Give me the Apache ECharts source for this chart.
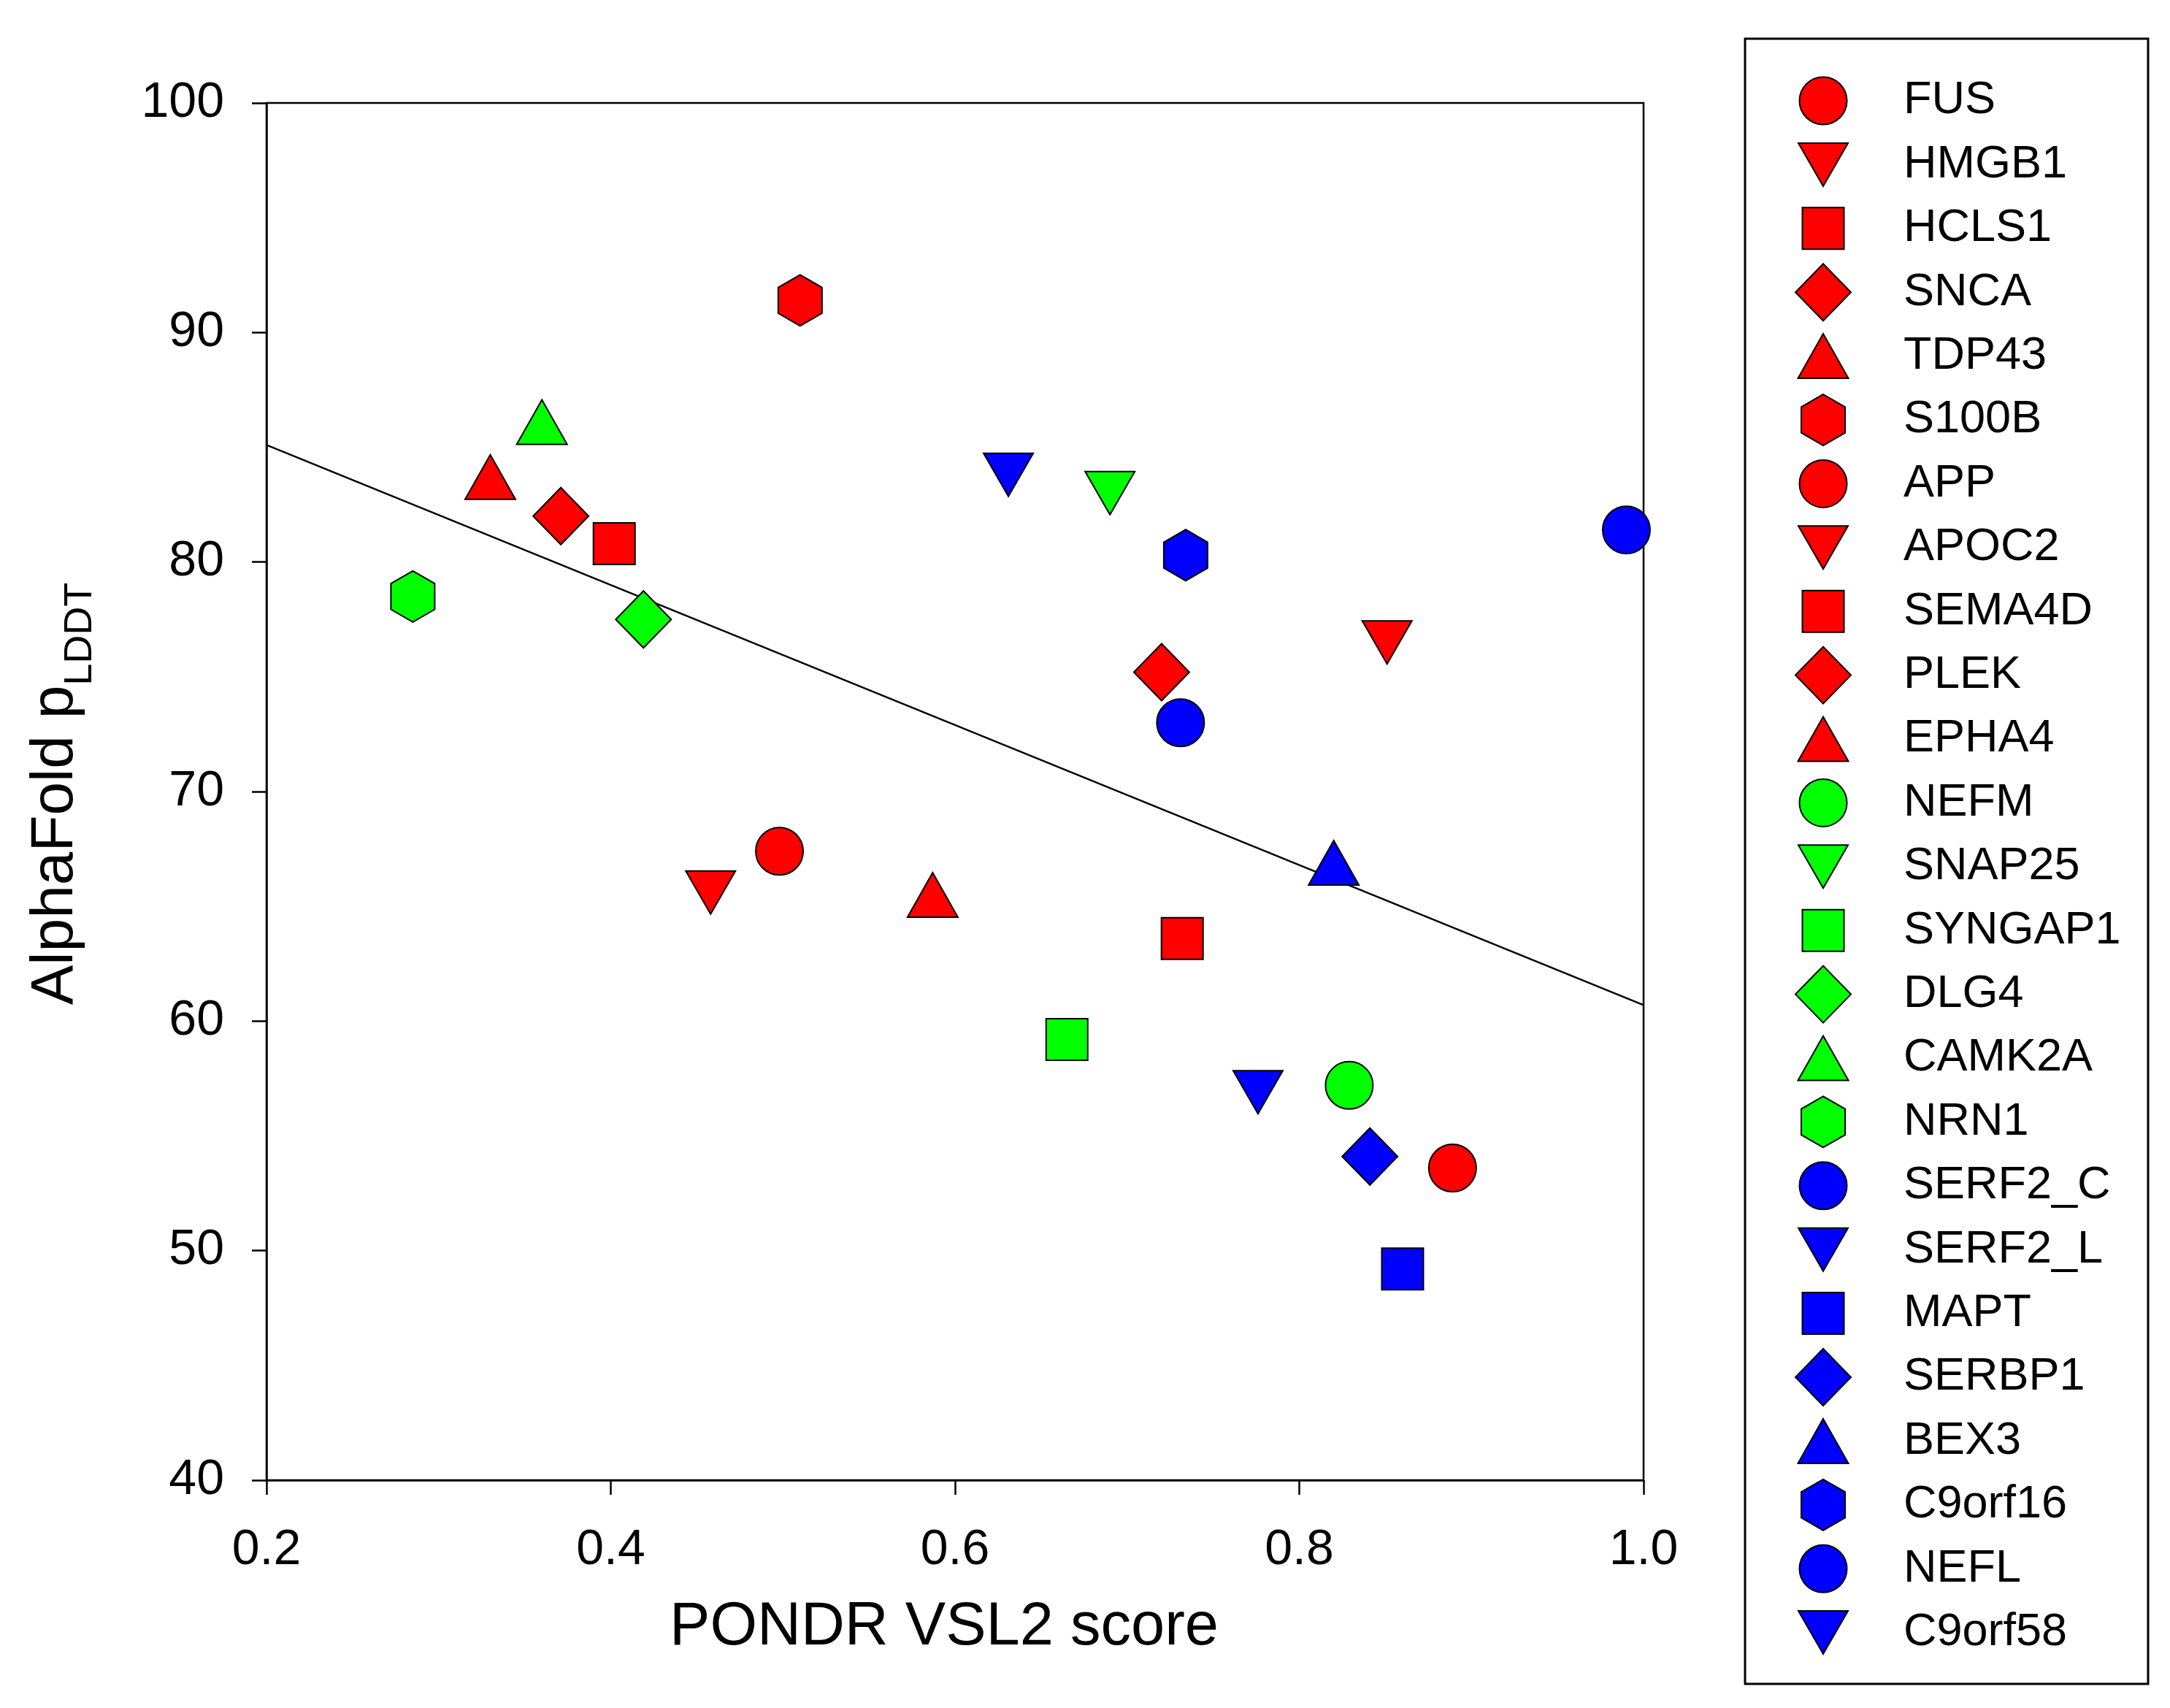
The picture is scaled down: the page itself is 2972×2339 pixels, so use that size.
<!DOCTYPE html>
<html><head><meta charset="utf-8">
<script src="https://cdn.jsdelivr.net/npm/echarts@6/dist/echarts.min.js"></script>
<style>html,body{margin:0;padding:0;background:#fff}#c{width:2972px;height:2339px}</style>
</head><body><div id="c"></div>
<script>
// ---- data ----
const proteins = ['FUS','HMGB1','HCLS1','SNCA','TDP43','S100B','APP','APOC2','SEMA4D','PLEK','EPHA4',
  'NEFM','SNAP25','SYNGAP1','DLG4','CAMK2A','NRN1',
  'SERF2_C','SERF2_L','MAPT','SERBP1','BEX3','C9orf16','NEFL','C9orf58'];
const vsl2Score = [0.889,0.458,0.402,0.371,0.330,0.510,0.498,0.851,0.732,0.720,0.587,
  0.829,0.690,0.665,0.419,0.360,0.285,
  0.731,0.631,0.860,0.841,0.820,0.734,0.990,0.776];
const plddt = [53.6,65.6,80.8,82.0,83.7,91.4,67.4,76.5,63.6,75.2,65.5,
  57.2,83.0,59.2,77.5,86.1,78.5,
  73.0,83.8,49.2,54.1,66.9,80.3,81.4,56.9];
const groupOf = ['r','r','r','r','r','r','r','r','r','r','r',
  'g','g','g','g','g','g',
  'b','b','b','b','b','b','b','b'];
const shapeOf = ['circle','down','square','diamond','up','hex','circle','down','square','diamond','up',
  'circle','down','square','diamond','up','hex',
  'circle','down','square','diamond','up','hex','circle','down'];
const fitLine = [[0.2, 85.1], [1.0, 60.7]];
const xTicks = {min: 0.2, max: 1.0, interval: 0.2};
const yTicks = {min: 40, max: 100, interval: 10};

// ---- styles ----
const groupColor = {r: '#FF0000', g: '#00FF00', b: '#0000FF'};
const BOX = 'path://M0 0M80 80';
const shapePath = {
  circle: BOX + 'M7.5 40A32.5 32.5 0 1 1 72.5 40A32.5 32.5 0 1 1 7.5 40Z',
  down: BOX + 'M6 10.5L74 10.5L40 69.5Z',
  square: BOX + 'M11.5 11.5L68.5 11.5L68.5 68.5L11.5 68.5Z',
  diamond: BOX + 'M40 1L78 40L40 79L2 40Z',
  up: BOX + 'M40 9.5L74.5 70.5L5.5 70.5Z',
  hex: BOX + 'M40 5L70 22.3L70 57.7L40 75L10 57.7L10 22.3Z'
};
const FONT = "'Liberation Sans', Arial, sans-serif";

const series = proteins.map((name, i) => ({
  name: name,
  type: 'scatter',
  data: [[vsl2Score[i], plddt[i]]],
  symbol: shapePath[shapeOf[i]],
  symbolSize: 80,
  itemStyle: {color: groupColor[groupOf[i]], borderColor: '#000', borderWidth: 2, opacity: 1},
  z: 3,
  silent: true
}));
series.unshift({
  name: 'fit',
  type: 'line',
  data: fitLine,
  showSymbol: false,
  symbol: 'none',
  lineStyle: {color: '#000', width: 2.5},
  z: 2,
  silent: true
});

const chart = echarts.init(document.getElementById('c'), null, {renderer: 'canvas'});
chart.setOption({
  animation: false,
  backgroundColor: '#fff',
  textStyle: {fontFamily: FONT},
  grid: {left: 365, top: 141, width: 1886, height: 1886, show: true,
    borderColor: '#000', borderWidth: 2.5, backgroundColor: 'transparent'},
  xAxis: {
    type: 'value', min: xTicks.min, max: xTicks.max, interval: xTicks.interval,
    axisLine: {show: true, onZero: false, lineStyle: {color: '#000', width: 2.5}},
    axisTick: {show: true, inside: false, length: 20, lineStyle: {color: '#000', width: 2.5}},
    axisLabel: {margin: 62, fontSize: 68, color: '#000', fontFamily: FONT,
      formatter: v => v.toFixed(1)},
    splitLine: {show: false}
  },
  yAxis: {
    type: 'value', min: yTicks.min, max: yTicks.max, interval: yTicks.interval,
    axisLine: {show: true, onZero: false, lineStyle: {color: '#000', width: 2.5}},
    axisTick: {show: true, inside: false, length: 20, lineStyle: {color: '#000', width: 2.5}},
    axisLabel: {margin: 58, fontSize: 68, color: '#000', fontFamily: FONT},
    splitLine: {show: false}
  },
  legend: {
    orient: 'vertical',
    left: 2456, top: 97,
    padding: 0,
    itemWidth: 210, itemHeight: 80, itemGap: 5.4,
    selectedMode: false,
    textStyle: {fontSize: 63, color: '#000', fontFamily: FONT},
    itemStyle: {borderColor: '#000', borderWidth: 2},
    data: proteins.map((n, i) => ({name: n, icon: shapePath[shapeOf[i]]}))
  },
  graphic: [
    {type: 'rect', shape: {x: 2390, y: 53, width: 552, height: 2253},
      style: {fill: 'none', stroke: '#000', lineWidth: 3}, silent: true},
    {type: 'text', x: 1293, y: 2229,
      style: {text: 'PONDR VSL2 score', fontSize: 83, fontFamily: FONT, fill: '#000',
        align: 'center', verticalAlign: 'middle'}, silent: true},
    {type: 'text', x: 76, y: 1087, rotation: Math.PI / 2,
      style: {text: '{m|AlphaFold p}{s|LDDT}', fill: '#000', align: 'center', verticalAlign: 'middle',
        fontFamily: FONT,
        rich: {
          m: {fontSize: 82, lineHeight: 82, fontFamily: FONT, fill: '#000', verticalAlign: 'top'},
          s: {fontSize: 54, lineHeight: 54, fontFamily: FONT, fill: '#000', verticalAlign: 'top', padding: [48, 0, 0, 0]}
        }}, silent: true}
  ],
  series: series
});
</script></body></html>
